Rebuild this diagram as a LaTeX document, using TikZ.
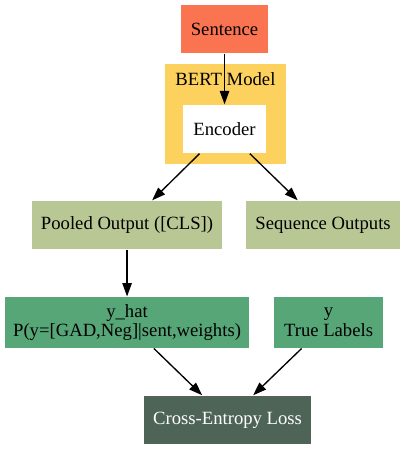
\documentclass[tikz,border=0pt]{standalone}
\usepackage{fontspec}
\setmainfont{Liberation Serif}
\usetikzlibrary{arrows.meta,positioning,backgrounds}
\definecolor{sentcol}{RGB}{250,116,82}
\definecolor{bertcol}{RGB}{252,209,94}
\definecolor{outcol}{RGB}{185,199,149}
\definecolor{predcol}{RGB}{87,166,120}
\definecolor{losscol}{RGB}{78,100,87}

\begin{document}
\begin{tikzpicture}[>={Triangle[length=10pt,width=7pt]},node distance=75pt,on grid,line width=1pt,font=\fontsize{14}{14.5}\selectfont]
\tikzstyle{box} = [rectangle,inner sep=0pt,minimum height=36pt,align=center]
\tikzstyle{sentbox} = [box,fill=sentcol]
\tikzstyle{encbox} = [box,fill=white]
\tikzstyle{outbox} = [box,fill=outcol]
\tikzstyle{predbox} = [box,fill=predcol,minimum height=38pt]
\tikzstyle{lossbox} = [box,fill=losscol,text=white]
\tikzstyle{bertbox} = [rectangle,fill=bertcol,inner sep=0pt]
    \useasboundingbox (0,0) rectangle (303.75pt,-336.75pt);
    \node[sentbox,minimum width=65.25pt] (sent) at (168.4pt,-21.75pt) {Sentence};
    \node[encbox,minimum width=62.25pt] (enc) [below=of sent] {Encoder};
    \node[outbox,minimum width=142.5pt] (pooled) [below left=72pt and 73.1pt of enc] {Pooled Output ([CLS])};
    \node[outbox,minimum width=115.5pt] (seq) [below right=72pt and 73.9pt of enc] {Sequence Outputs};
    \node[predbox,minimum width=183pt] (yhat) [below=73.1pt of pooled] {y\_hat\\P(y=[GAD,Neg]|sent,weights)};
    \node[predbox,minimum width=81.75pt] (ytrue) [right=151.1pt of yhat] {y\\True Labels};
    \node[lossbox,minimum width=125.25pt] (loss) [below right=73.1pt and 75.4pt of yhat] {Cross-Entropy Loss};
    \begin{scope}[on background layer]
    \node[bertbox,minimum width=90.75pt,minimum height=75pt,label={[anchor=center,yshift=-11.25pt]north:BERT Model}] (bert) at ([xshift=0.7pt,yshift=11.25pt]enc.center) {};
    \end{scope}

    \tikzset{flow/.style={->}}
    \draw (sent) edge [flow] (enc);
    \draw (enc) edge [flow] (pooled);
    \draw (enc) edge [flow] (seq);
    \draw (pooled) edge [flow] (yhat);
    \draw (yhat) edge [flow] (loss);
    \draw (ytrue) edge [flow] (loss);
\end{tikzpicture}
\end{document}
